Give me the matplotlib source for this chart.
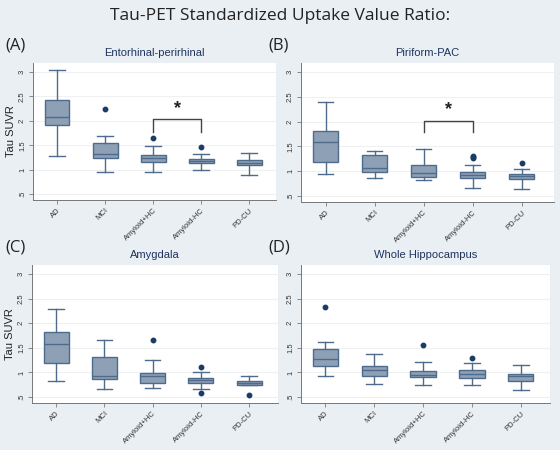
import numpy as np
import matplotlib
matplotlib.use('Agg')
import matplotlib.pyplot as plt

groups = ['AD', 'MCI', 'Amyloid+HC', 'Amyloid-HC', 'PD-CU']
titles = ['Entorhinal-perirhinal', 'Piriform-PAC', 'Amygdala', 'Whole Hippocampus']
letters = ['(A)', '(B)', '(C)', '(D)']

# per panel: whisker low, Q1, median, Q3, whisker high, outliers
ento_wlo = [1.27, 0.96, 0.96, 1.00, 0.90]
ento_q1 = [1.92, 1.23, 1.16, 1.13, 1.09]
ento_med = [2.07, 1.33, 1.24, 1.18, 1.14]
ento_q3 = [2.42, 1.55, 1.30, 1.22, 1.19]
ento_whi = [3.03, 1.69, 1.49, 1.32, 1.34]
ento_out = [[], [2.24], [1.65], [1.46], []]

piri_wlo = [0.94, 0.86, 0.82, 0.67, 0.65]
piri_q1 = [1.19, 0.98, 0.88, 0.86, 0.84]
piri_med = [1.59, 1.07, 0.97, 0.92, 0.90]
piri_q3 = [1.81, 1.32, 1.12, 0.98, 0.94]
piri_whi = [2.39, 1.40, 1.45, 1.12, 1.04]
piri_out = [[], [], [], [1.31, 1.28, 1.26], [1.17]]

amyg_wlo = [0.82, 0.66, 0.68, 0.67, 0.74]
amyg_q1 = [1.20, 0.86, 0.78, 0.79, 0.74]
amyg_med = [1.57, 0.93, 0.93, 0.84, 0.78]
amyg_q3 = [1.82, 1.31, 0.99, 0.89, 0.83]
amyg_whi = [2.29, 1.66, 1.26, 1.01, 0.93]
amyg_out = [[], [], [1.66], [1.11, 0.58], [0.54]]

hipp_wlo = [0.93, 0.76, 0.74, 0.74, 0.64]
hipp_q1 = [1.13, 0.92, 0.91, 0.89, 0.82]
hipp_med = [1.28, 1.05, 0.95, 0.96, 0.92]
hipp_q3 = [1.48, 1.13, 1.03, 1.05, 0.97]
hipp_whi = [1.61, 1.38, 1.22, 1.19, 1.16]
hipp_out = [[2.33], [], [1.55], [1.30], []]

panels = [
    (ento_wlo, ento_q1, ento_med, ento_q3, ento_whi, ento_out),
    (piri_wlo, piri_q1, piri_med, piri_q3, piri_whi, piri_out),
    (amyg_wlo, amyg_q1, amyg_med, amyg_q3, amyg_whi, amyg_out),
    (hipp_wlo, hipp_q1, hipp_med, hipp_q3, hipp_whi, hipp_out),
]
# significance bracket (top, leg bottom) for A and B only
brackets = [(2.03, 1.77), (2.02, 1.79), None, None]

bg = '#eaeff3'
box_fill = '#8ea0b6'
box_edge = '#4f6b8c'
dot_col = '#1c3c68'
navy = '#1f3560'

plt.rcParams['font.family'] = ['Liberation Sans', 'DejaVu Sans']
fig = plt.figure(figsize=(5.6, 4.5), dpi=100, facecolor=bg)

fig.text(0.5, 0.965, 'Tau-PET Standardized Uptake Value Ratio:', ha='center', va='center',
         fontsize=12.5, color='#222222', family=['Open Sans', 'DejaVu Sans'])

# axes rects in pixels: left, right, top, bottom
rects = [(33, 276, 63, 200), (301, 554, 63, 202), (32, 278, 265, 403), (301, 550, 265, 403)]
xr = [(0.5, 5.56), (0.5, 5.66), (0.5, 5.6), (0.5, 5.6)]

for i, (wlo, q1, med, q3, whi, out) in enumerate(panels):
    l, r, t, b = rects[i]
    ax = fig.add_axes([l / 560, 1 - b / 450, (r - l) / 560, (b - t) / 450])
    ax.set_facecolor('white')
    stats = []
    for j in range(len(groups)):
        stats.append(dict(whislo=wlo[j], q1=q1[j], med=med[j], q3=q3[j], whishi=whi[j],
                          fliers=out[j], label=groups[j]))
    ax.bxp(stats, positions=range(1, 6), widths=0.52, capwidths=0.32, patch_artist=True,
           boxprops=dict(facecolor=box_fill, edgecolor=box_edge, linewidth=1.0),
           medianprops=dict(color=box_edge, linewidth=1.0),
           whiskerprops=dict(color=box_edge, linewidth=1.0),
           capprops=dict(color=box_edge, linewidth=1.0),
           flierprops=dict(marker='o', markersize=3.2, markerfacecolor=dot_col,
                           markeredgecolor=dot_col))
    ax.set_ylim(0.38, 3.18)
    ax.set_xlim(*xr[i])
    ax.set_yticks([0.5, 1, 1.5, 2, 2.5, 3])
    ax.set_yticklabels(['.5', '1', '1.5', '2', '2.5', '3'], rotation=90, va='center',
                       fontsize=5.5, color='#333333')
    ax.set_xticks(range(1, 6))
    ax.set_xticklabels(groups, rotation=45, ha='right', rotation_mode='anchor',
                       fontsize=5.5, color='#333333')
    ax.tick_params(axis='both', length=3, width=0.6, color='#777777', pad=2)
    ax.grid(axis='y', color='#eef0f2', linewidth=0.8)
    ax.set_axisbelow(True)
    for s in ['top', 'right']:
        ax.spines[s].set_visible(False)
    for s in ['left', 'bottom']:
        ax.spines[s].set_color('#777777')
        ax.spines[s].set_linewidth(0.7)
    ax.set_title(titles[i], fontsize=8, color=navy, pad=5)
    if i % 2 == 0:
        ax.set_ylabel('Tau SUVR', fontsize=8, color='#222222', labelpad=2)
    if brackets[i] is not None:
        top, leg = brackets[i]
        ax.plot([3, 3, 4, 4], [leg, top, top, leg], color='#444444', linewidth=1.0)
        ax.text(3.5, top + 0.05, '*', ha='center', va='bottom', fontsize=13,
                fontweight='bold', color='#222222')
    lx = 5 if i % 2 == 0 else 268
    fig.text(lx / 560, 1 - (t - 18) / 450, letters[i], ha='left', va='center',
             fontsize=12, color='#222222', family=['Open Sans', 'DejaVu Sans'])

fig.savefig('out.png', dpi=100, facecolor=bg)
